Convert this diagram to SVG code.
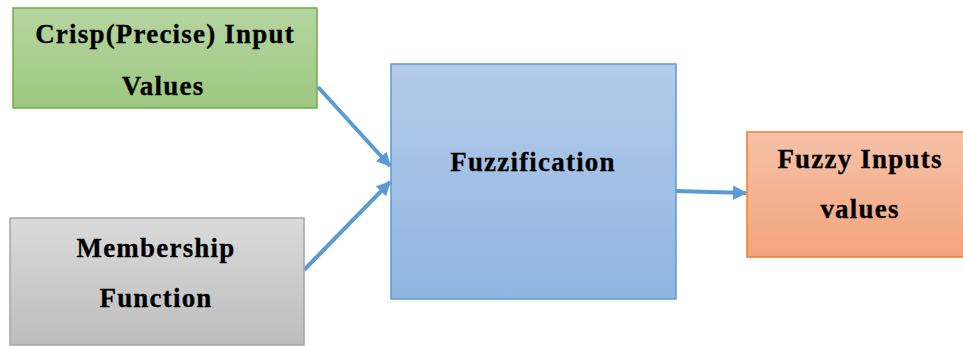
<svg xmlns="http://www.w3.org/2000/svg" width="963" height="346" viewBox="0 0 963 346">
  <style>
    .lbl { font-family: "Liberation Serif", "Times New Roman", serif; font-weight: bold; font-size: 27px; letter-spacing: 1.2px; fill: #000; stroke: #000; stroke-width: 0.3; text-anchor: middle; }
    .edge { fill: none; stroke: #5b9bd5; stroke-width: 4; marker-end: url(#head); }
  </style>
  <defs>
    <linearGradient id="gGreen" x1="0" y1="0" x2="0" y2="1">
      <stop offset="0" stop-color="#b6d5a0"/>
      <stop offset="1" stop-color="#9dc881"/>
    </linearGradient>
    <linearGradient id="gGray" x1="0" y1="0" x2="0" y2="1">
      <stop offset="0" stop-color="#dadada"/>
      <stop offset="1" stop-color="#bdbdbd"/>
    </linearGradient>
    <linearGradient id="gBlue" x1="0" y1="0" x2="0" y2="1">
      <stop offset="0" stop-color="#b4cbe8"/>
      <stop offset="1" stop-color="#8fb5e2"/>
    </linearGradient>
    <linearGradient id="gOrange" x1="0" y1="0" x2="0" y2="1">
      <stop offset="0" stop-color="#f6c2a9"/>
      <stop offset="1" stop-color="#f3a47c"/>
    </linearGradient>
    <marker id="head" viewBox="0 0 10 10" refX="9" refY="5" markerWidth="3.6" markerHeight="3.6" orient="auto" markerUnits="strokeWidth">
      <path d="M0,0 L10,5 L0,10 Z" fill="#5b9bd5"/>
    </marker>
  </defs>

  <g id="connectors">
    <line class="edge" x1="318" y1="87" x2="390" y2="166"/>
    <line class="edge" x1="304" y1="270" x2="390" y2="182"/>
    <line class="edge" x1="676" y1="191" x2="746" y2="193"/>
  </g>

  <g id="crisp-input">
    <rect x="13" y="8" width="304" height="100" fill="url(#gGreen)" stroke="#70ad47" stroke-width="1.5"/>
    <text class="lbl" x="165" y="43">Crisp(Precise) Input</text>
    <text class="lbl" x="163" y="95">Values</text>
  </g>

  <g id="membership">
    <rect x="10" y="218" width="294" height="127" fill="url(#gGray)" stroke="#a5a5a5" stroke-width="1.5"/>
    <text class="lbl" x="156" y="257">Membership</text>
    <text class="lbl" x="156" y="307">Function</text>
  </g>

  <g id="fuzzification">
    <rect x="391" y="64" width="285" height="235" fill="url(#gBlue)" stroke="#5b9bd5" stroke-width="1.5"/>
    <text class="lbl" x="533" y="171">Fuzzification</text>
  </g>

  <g id="fuzzy-inputs">
    <rect x="747" y="132" width="226" height="125" fill="url(#gOrange)" stroke="#ed7d31" stroke-width="1.5"/>
    <text class="lbl" x="860" y="168">Fuzzy Inputs</text>
    <text class="lbl" x="860" y="218">values</text>
  </g>
</svg>
